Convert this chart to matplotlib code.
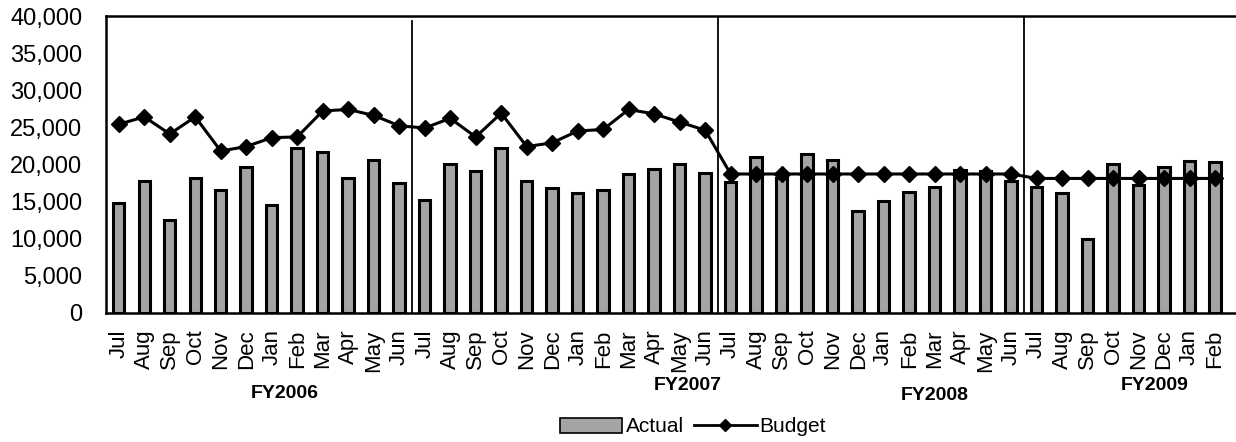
import numpy as np
import matplotlib
matplotlib.use("Agg")
import matplotlib.pyplot as plt
from matplotlib.ticker import FuncFormatter
from matplotlib.transforms import blended_transform_factory
from matplotlib.lines import Line2D
from matplotlib.patches import Patch

plt.rcParams['font.family'] = ['Liberation Sans', 'DejaVu Sans']

# data
months = ['Jul', 'Aug', 'Sep', 'Oct', 'Nov', 'Dec',
          'Jan', 'Feb', 'Mar', 'Apr', 'May', 'Jun'] * 3 + \
         ['Jul', 'Aug', 'Sep', 'Oct', 'Nov', 'Dec', 'Jan', 'Feb']
fiscalYears = ['FY2006', 'FY2007', 'FY2008', 'FY2009']
actual = [14800, 17800, 12500, 18200, 16500, 19700, 14550, 22200, 21600, 18200, 20600, 17500,
          15200, 20100, 19050, 22200, 17800, 16800, 16100, 16600, 18700, 19400, 20100, 18800,
          17600, 21000, 18200, 21400, 20600, 13650, 15050, 16300, 17000, 19200, 19050, 17700,
          17000, 16200, 10000, 20050, 17250, 19650, 20400, 20300]
budget = [25400, 26400, 24100, 26400, 21800, 22400, 23600, 23700, 27200, 27400, 26600, 25200,
          24900, 26200, 23700, 26900, 22400, 22900, 24500, 24700, 27400, 26800, 25700, 24600,
          18700, 18700, 18700, 18700, 18700, 18700, 18700, 18700, 18700, 18700, 18700, 18700,
          18100, 18100, 18100, 18100, 18100, 18100, 18100, 18100]

W, H = 1236, 442
fig = plt.figure(figsize=(W / 100, H / 100), dpi=100)
ax = fig.add_axes([106 / W, 1 - 312.7 / H, 1 - 106 / W, (312.7 - 16) / H])

x = np.arange(len(months))
ax.bar(x, actual, width=0.45, color='#a4a4a4', edgecolor='black', linewidth=2.2, zorder=2)
ax.plot(x, budget, color='black', linewidth=2.2, marker='D', markersize=8, zorder=3)

# fiscal year separators
for b in [11.5, 23.5, 35.5]:
    ax.axvline(b, color='black', linewidth=1.3, ymax=0.982 if b == 11.5 else 1, zorder=1)

ax.set_ylim(0, 40000)
ax.set_xlim(-0.5, 43.82)
ax.set_yticks(range(0, 40001, 5000))
ax.yaxis.set_major_formatter(FuncFormatter(lambda v, p: '{:,.0f}'.format(v)))
ax.set_xticks(x)
ax.set_xticklabels(months, rotation=90, fontsize=16)
ax.tick_params(axis='y', labelsize=17, length=0, pad=17)
ax.tick_params(axis='x', length=0, pad=12)
for sp in ['left', 'bottom', 'top']:
    ax.spines[sp].set_linewidth(1.8)
ax.spines['right'].set_visible(False)

# fiscal year labels
tr = blended_transform_factory(ax.transData, fig.transFigure)
fyPos = [(6.52, 394), (22.3, 386), (32.0, 396), (40.64, 386)]
for name, (px, py) in zip(fiscalYears, fyPos):
    ax.text(px, 1 - py / H, name, transform=tr, ha='center', va='center',
            fontsize=14, fontweight='bold')

handles = [Patch(facecolor='#a4a4a4', edgecolor='black', linewidth=1.2),
           Line2D([], [], color='black', linewidth=2, marker='D', markersize=6)]
fig.legend(handles, ['Actual', 'Budget'], loc='center', bbox_to_anchor=(693 / W, 1 - 427 / H),
           ncol=2, frameon=False, fontsize=15, handlelength=3.0, handletextpad=0.15,
           columnspacing=0.5)

fig.savefig('out.png', dpi=100)
